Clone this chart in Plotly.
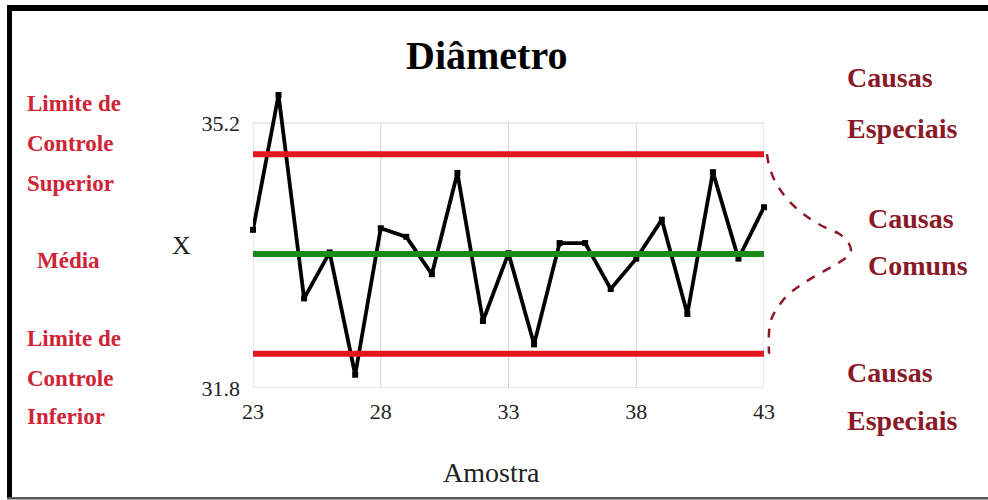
import plotly.graph_objects as go

# ---- data ----
amostra = list(range(23, 44))
diametro = [33.83, 35.56, 32.95, 33.54, 31.97, 33.85, 33.74, 33.26, 34.56, 32.66,
            33.53, 32.36, 33.66, 33.66, 33.07, 33.46, 33.96, 32.75, 34.57, 33.46, 34.12]
lsc = 34.80   # limite superior de controle
media = 33.52
lic = 32.24   # limite inferior de controle
x_ticks = [23, 28, 33, 38, 43]
x_grid = [28, 33, 38]
y_ticks = [31.8, 35.2]
y_tick_labels = ["31.8", "35.2"]

W, H = 988, 500
YMIN, YFRAME, YMAX = 31.8, 35.2, 35.65
L, R, B = 253, 224, 112
FRAME_TOP = 123
PX_PER_UNIT = (H - B - FRAME_TOP) / (YFRAME - YMIN)
T = round(FRAME_TOP - (YMAX - YFRAME) * PX_PER_UNIT)
PW, PH = W - L - R, H - T - B


def px(X):
    return (X - L) / PW


def py(Y):
    return (H - B - Y) / PH


def vy(v):
    return (v - YMIN) / (YMAX - YMIN)


SERIF = "Liberation Serif, Times New Roman, serif"

fig = go.Figure()
fig.add_trace(go.Scatter(x=amostra, y=diametro, mode="lines+markers",
                         line=dict(color="black", width=3.8),
                         marker=dict(symbol="square", size=6, color="black"),
                         cliponaxis=False, showlegend=False))
for val, col in [(lsc, "#e3161e"), (media, "#178a17"), (lic, "#e3161e")]:
    fig.add_trace(go.Scatter(x=[amostra[0], amostra[-1]], y=[val, val], mode="lines",
                             line=dict(color=col, width=6), showlegend=False))

fig.update_xaxes(range=[23, 43], tickvals=x_ticks, ticktext=[str(t) for t in x_ticks],
                 showgrid=False, showline=False, zeroline=False,
                 ticks="", ticklabelstandoff=8,
                 tickfont=dict(family=SERIF, size=22, color="#222"))
fig.update_yaxes(range=[YMIN, YMAX], tickvals=y_ticks, ticktext=y_tick_labels,
                 showgrid=False, showline=False, zeroline=False,
                 ticks="", ticklabelstandoff=12,
                 tickfont=dict(family=SERIF, size=22, color="#222"))

ann = []
ann.append(dict(x=px(486), y=py(56), text="<b>Diâmetro</b>", font=dict(family=SERIF, size=40, color="black")))
ann.append(dict(x=px(491), y=py(472), text="Amostra", font=dict(family=SERIF, size=28, color="#222")))
ann.append(dict(x=px(181), y=py(245), text="X", font=dict(family=SERIF, size=26, color="#222")))

red = "#cf2437"
left_lines = [("Limite de", 103, 25), ("Controle", 143, 25), ("Superior", 183, 25),
              ("Média", 260, 35),
              ("Limite de", 338, 25), ("Controle", 378, 25), ("Inferior", 416, 25)]
for txt, yy, xx in left_lines:
    ann.append(dict(x=px(xx), y=py(yy), text="<b>" + txt + "</b>", xanchor="left",
                    font=dict(family=SERIF, size=23, color=red)))

dred = "#8b1a28"
right_lines = [("Causas", 78, 845), ("Especiais", 128, 845),
               ("Causas", 218, 866), ("Comuns", 265, 866),
               ("Causas", 372, 845), ("Especiais", 420, 845)]
for txt, yy, xx in right_lines:
    ann.append(dict(x=px(xx), y=py(yy), text="<b>" + txt + "</b>", xanchor="left",
                    font=dict(family=SERIF, size=28, color=dred)))

for a in ann:
    a.update(xref="paper", yref="paper", showarrow=False)
    a.setdefault("xanchor", "center")
    a["yanchor"] = "middle"

# dashed brace between the control limits
yu, ym, yl = vy(lsc), vy(media), vy(lic)
p = lambda X, yv: f"{px(X):.4f},{yv:.4f}"
brace = ("M " + p(767, yu) +
         " C " + p(771, yu - 0.13) + " " + p(805, ym + 0.11) + " " + p(838, ym + 0.07) +
         " C " + p(854, ym + 0.035) + " " + p(852, ym) + " " + p(849, ym - 0.005) +
         " C " + p(835, ym - 0.045) + " " + p(800, ym - 0.09) + " " + p(784, ym - 0.15) +
         " C " + p(770, ym - 0.21) + " " + p(768, yl + 0.11) + " " + p(769, yl))

gray = "#d6d6d6"
shapes = [dict(type="line", xref="x", yref="y", x0=g, x1=g, y0=YMIN, y1=YFRAME,
               line=dict(color=gray, width=1), layer="below") for g in x_grid]
shapes += [
    dict(type="rect", xref="x", yref="y", x0=x_ticks[0], x1=x_ticks[-1], y0=YMIN, y1=YFRAME,
         line=dict(color=gray, width=1), layer="below"),
    dict(type="path", path=brace, xref="paper", yref="paper",
         line=dict(color="#8b1a28", width=2.5, dash="dash")),
    # picture frame
    dict(type="rect", xref="paper", yref="paper", x0=px(7), x1=px(990), y0=py(11), y1=py(5),
         fillcolor="black", line=dict(width=0)),
    dict(type="rect", xref="paper", yref="paper", x0=px(7), x1=px(12), y0=py(498), y1=py(5),
         fillcolor="black", line=dict(width=0)),
    dict(type="rect", xref="paper", yref="paper", x0=px(7), x1=px(990), y0=py(499.5), y1=py(497),
         fillcolor="#555", line=dict(width=0)),
]

fig.update_layout(width=W, height=H, margin=dict(l=L, r=R, t=T, b=B),
                  paper_bgcolor="white", plot_bgcolor="white",
                  annotations=ann, shapes=shapes, showlegend=False)

fig.write_html("out.html", config={"displayModeBar": False},
               post_script="document.body.style.margin='0';document.body.style.overflow='hidden';")
